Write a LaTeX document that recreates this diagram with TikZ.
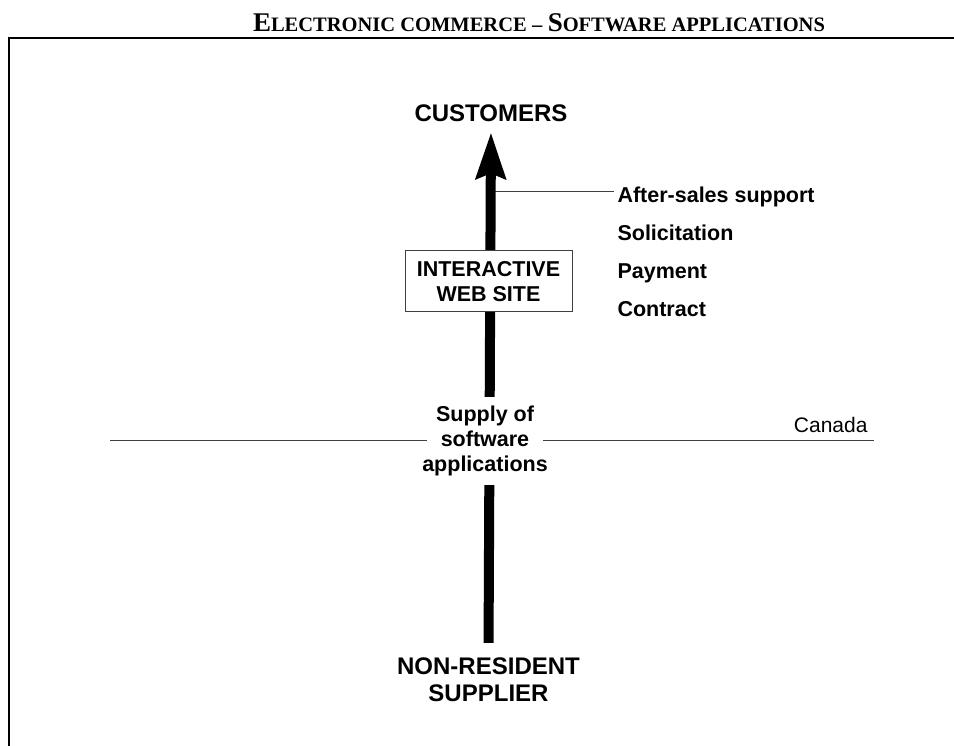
\documentclass[tikz,border=0pt]{standalone}
\usepackage{fontspec}
\setmainfont{Liberation Sans}
\newfontfamily\titlefont{Liberation Serif}
\usetikzlibrary{arrows.meta,positioning,backgrounds}

\newcommand\fakesc[2]{{\fontsize{27}{30}\selectfont #1}{\fontsize{20.5}{24}\selectfont #2}}

\begin{document}
\begin{tikzpicture}[x=1pt, y=-1pt, node distance=38pt,
	every node/.style={font=\fontsize{21.5}{25}\selectfont\bfseries, align=center},
	big/.style={font=\fontsize{24}{27}\selectfont\bfseries},
	flow/.style={line width=10pt, -{Stealth[length=46pt,width=29pt,inset=5pt]}},
	thin line/.style={line width=1pt, draw=black!75}]
		
		\useasboundingbox (0,0) rectangle (954,746);
		
		\node (title) [anchor=base] at (539,32) {\titlefont\fakesc{E}{LECTRONIC COMMERCE} {\fontsize{20.5}{24}\selectfont\textendash} \fakesc{S}{OFTWARE APPLICATIONS}};
		\draw[line width=1.8pt] (9,746) -- (9,38) -- (954,38);
		
		\node (cust) [big] at (491,113.5) {CUSTOMERS};
		\node (supplier) [big] at (488.5,680) {NON-RESIDENT\\SUPPLIER};
		\node (site) [draw, thin line, fill=white, minimum width=167pt, minimum height=61pt] at (488.5,281.5) {INTERACTIVE\\WEB SITE};
		\node (supply) [fill=white, inner xsep=-5pt, inner ysep=9pt] at (485,441) {Supply of\\software\\applications};
		\node (canada) [font=\fontsize{21}{25}\selectfont, anchor=base east] at (871,432) {Canada};
		
		\node (after) [anchor=base west] at (614,203) {After-sales support};
		\node (solic) [below=of after.base west, anchor=base west] {Solicitation};
		\node (pay) [below=of solic.base west, anchor=base west] {Payment};
		\node (contract) [below=of pay.base west, anchor=base west] {Contract};
		
		% Edges
		\begin{pgfonlayer}{background}
			\coordinate (westend) at (110,440.5);
			\coordinate (eastend) at (874,440.5);
			\coordinate (tap) at (488.5,192);
			\draw[thin line] (westend) -- (eastend);
			\draw[thin line] (tap) -- (tap -| after.west);
			\draw[flow, shorten <=11.5pt, shorten >=6.7pt] (supplier.north) -- (cust.south);
		\end{pgfonlayer}
		
	\end{tikzpicture}
\end{document}
